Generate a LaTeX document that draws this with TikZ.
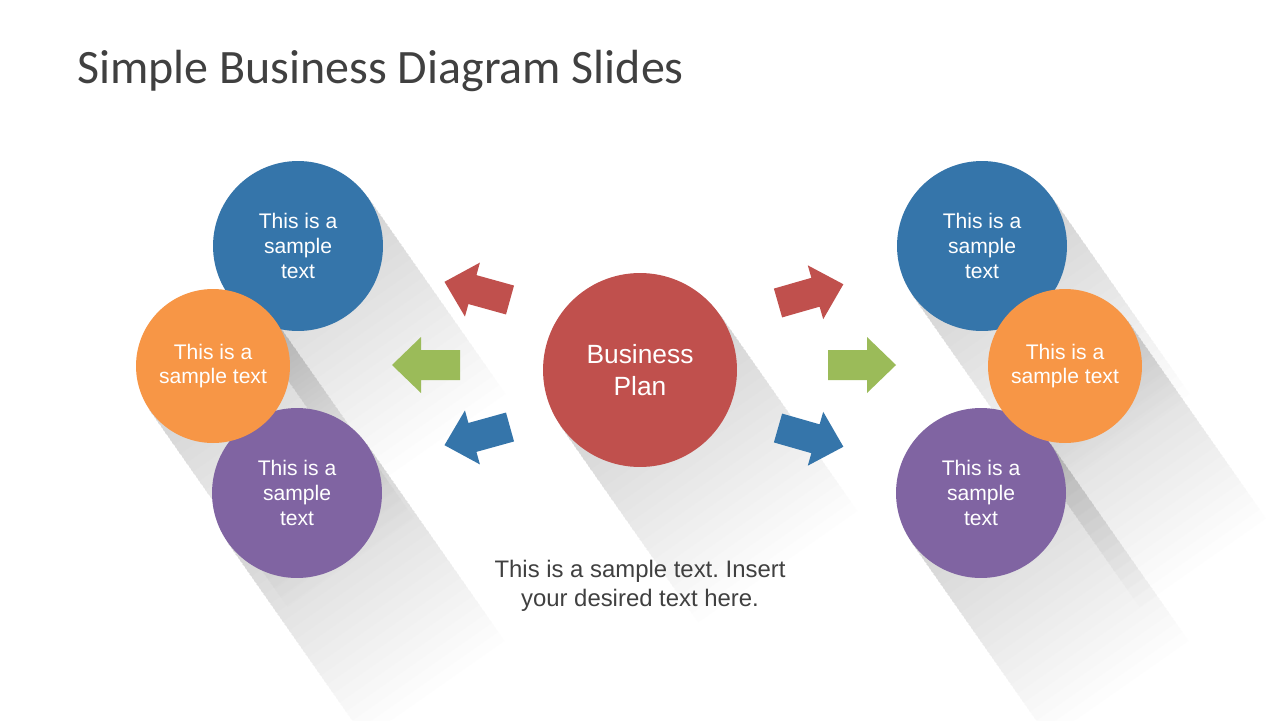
\documentclass[tikz,border=0pt]{standalone}
\usepackage{fontspec}
\setmainfont{Liberation Sans}
\newfontfamily\titlefont{Carlito}
\usepackage{xcolor}
\usetikzlibrary{shapes,arrows,positioning,calc,backgrounds}
\frenchspacing

\definecolor{planred}{HTML}{C0504D}
\definecolor{topblue}{HTML}{3575AA}
\definecolor{midorange}{HTML}{F79646}
\definecolor{lowpurple}{HTML}{8064A2}
\definecolor{arrgreen}{HTML}{9BBB59}
\definecolor{slidegray}{HTML}{404040}

\tikzset{
  blockarrow/.pic={
    \fill (0,-15) -- (39,-15) -- (39,-28) -- (68,0) -- (39,28) -- (39,15) -- (0,15) -- cycle;
  }
}

\begin{document}
\begin{tikzpicture}[x=0.02cm, y=-0.02cm]
        \tikzstyle{bubble}=[circle, inner sep=0pt, align=center, text=white, font=\fontsize{12}{14}\selectfont]
        \tikzstyle{big}=[bubble, minimum size=3.4cm]
        \tikzstyle{small}=[bubble, minimum size=3.08cm]
        \tikzstyle{longshadow}=[black!0.6, blend mode=multiply, rotate=-55]
        \useasboundingbox (0,0) rectangle (1280,720);

        % title
        \node[anchor=base west, inner sep=0pt, text=slidegray, font=\titlefont\fontsize{27.3}{32}\selectfont]
            (title) at (77,83) {Simple Business Diagram Slides};

        % centre
        \node[circle, fill=planred, minimum size=3.88cm, text=white, align=center,
              font=\fontsize{15}{18}\selectfont] (plan) at (640,370) {Business\\Plan};
        \node[below=1.86cm of plan, inner sep=0pt, align=center, text=slidegray,
              font=\fontsize{13.6}{16}\selectfont] (note) {This is a sample text. Insert\\your desired text here.};

        % left group
        \node[big, fill=topblue]      (lb) at (298,246) {This is a\\sample\\text};
        \node[big, fill=lowpurple]    (lp) at (297,493) {This is a\\sample\\text};
        \node[small, fill=midorange]  (lo) at (213,366) {This is a\\sample text};

        % right group
        \node[big, fill=topblue]      (rb) at (982,246) {This is a\\sample\\text};
        \node[big, fill=lowpurple]    (rp) at (981,493) {This is a\\sample\\text};
        \node[small, fill=midorange]  (ro) at (1065,366) {This is a\\sample text};

        % arrows
        \pic[fill=planred, rotate=164.5]  at (510,300) {blockarrow};
        \pic[fill=arrgreen, rotate=180]   at (460,365) {blockarrow};
        \pic[fill=topblue, rotate=195.5]  at (510,427) {blockarrow};
        \pic[fill=planred, rotate=16]     at (778,303) {blockarrow};
        \pic[fill=arrgreen]               at (828,365) {blockarrow};
        \pic[fill=topblue, rotate=-16]    at (778,428) {blockarrow};

        % long shadows, stacked so they fade
        \begin{pgfonlayer}{background}
        \fill[white] (0,0) rectangle (1280,720);
        \foreach \c/\r in {plan/97, lb/85, lp/85, lo/77, rb/85, rp/85, ro/77}
          \foreach \i in {0,...,19}
            \fill[longshadow, shift={(\c)}] (0,-\r) rectangle (240-\i*11,\r);
        \end{pgfonlayer}
    \end{tikzpicture}
\end{document}
